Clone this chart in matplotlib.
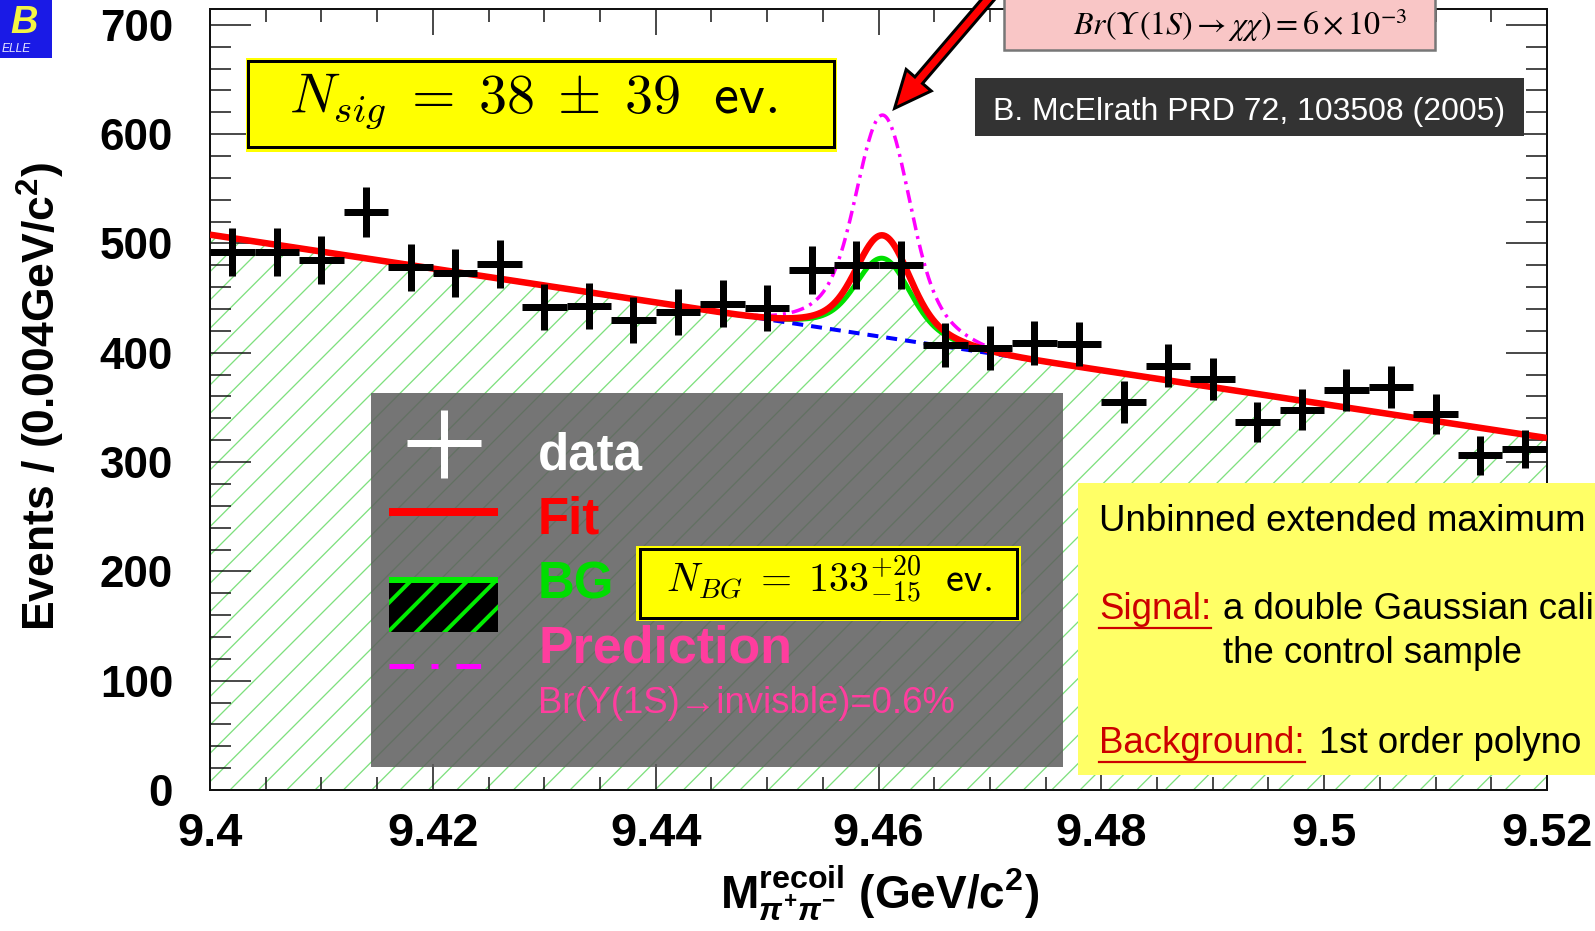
import numpy as np
import matplotlib
matplotlib.use('Agg')
import matplotlib.pyplot as plt
import matplotlib.patches as mpatches
import matplotlib.transforms as mtransforms
from matplotlib.lines import Line2D
from matplotlib.ticker import MultipleLocator

# ---------------- data ----------------
bin_centers = [9.402, 9.406, 9.410, 9.414, 9.418, 9.422, 9.426, 9.430, 9.434, 9.438,
               9.442, 9.446, 9.450, 9.454, 9.458, 9.462, 9.466, 9.470, 9.474, 9.478,
               9.482, 9.486, 9.490, 9.494, 9.498, 9.502, 9.506, 9.510, 9.514, 9.518]
counts = [492, 492, 485, 529, 478, 473, 481, 442, 443, 430,
          437, 445, 441, 476, 480, 480, 407, 404, 409, 408,
          355, 388, 376, 337, 348, 366, 369, 344, 306, 312]
bin_half_width = 0.002

mass_range = [9.40, 9.52]
bg_at_range = [508.0, 322.0]          # 1st order polynomial background at 9.40 / 9.52
peak_mass = 9.4604
peak_height_fit = 93.0                # red (fit)
peak_height_bg_curve = 72.0           # green curve
peak_height_prediction = 203.0        # magenta (prediction)
core_sigma = 0.0022
tail_sigma = 0.0045
tail_fraction = 0.25

x_tick_values = [9.40, 9.42, 9.44, 9.46, 9.48, 9.50, 9.52]
x_tick_labels = ['9.4', '9.42', '9.44', '9.46', '9.48', '9.5', '9.52']
y_tick_values = [0, 100, 200, 300, 400, 500, 600, 700]
y_tick_labels = ['0', '100', '200', '300', '400', '500', '600', '700']

# ---------------- setup ----------------
DPI = 85
W, H = 1595, 931


def pt(px):
    return px * 72.0 / DPI


SANS = ['Liberation Sans', 'DejaVu Sans']
plt.rcParams['font.family'] = SANS
plt.rcParams['lines.scale_dashes'] = False
plt.rcParams['hatch.linewidth'] = pt(1.3)
plt.rcParams['mathtext.fontset'] = 'custom'
plt.rcParams['mathtext.rm'] = 'Liberation Sans:bold'
plt.rcParams['mathtext.it'] = 'Liberation Sans:italic:bold'
plt.rcParams['mathtext.bf'] = 'Liberation Sans:bold'
plt.rcParams['mathtext.sf'] = 'Liberation Sans:bold'

fig = plt.figure(figsize=((W + 0.01) / DPI, (H + 0.01) / DPI), dpi=DPI, facecolor='white')
PXT = mtransforms.Affine2D().scale(1.0 / W, -1.0 / H).translate(0, 1) + fig.transFigure

ax_l, ax_r, ax_t, ax_b = 210, 1547, 9.5, 790
ax = fig.add_axes([ax_l / W, 1 - ax_b / H, (ax_r - ax_l) / W, (ax_b - ax_t) / H])
ax.set_xlim(mass_range)
ax.set_ylim(0, 714)

# curves
xf = np.linspace(mass_range[0], mass_range[1], 1601)
bg = np.interp(xf, mass_range, bg_at_range)
dm = xf - peak_mass
shape = (1 - tail_fraction) * np.exp(-0.5 * (dm / core_sigma) ** 2) + \
    tail_fraction * np.exp(-0.5 * (dm / tail_sigma) ** 2)
fit_curve = bg + peak_height_fit * shape
green_curve = bg + peak_height_bg_curve * shape
pred_curve = bg + peak_height_prediction * shape

ax.fill_between(xf, 0, green_curve, facecolor='none', edgecolor='#7ee07e',
                hatch='/', linewidth=0, zorder=1)
ax.plot(xf, green_curve, color='#00e000', lw=pt(5), zorder=2)
ax.plot(xf, bg, color='#0000ff', lw=pt(4), ls=(0, (pt(11), pt(8))), zorder=2.2)
ax.plot(xf, pred_curve, color='#ff00ff', lw=pt(3.5),
        ls=(0, (pt(13), pt(6), pt(3), pt(6))), zorder=2.4)
ax.plot(xf, fit_curve, color='#ff0000', lw=pt(6.5), zorder=2.6, solid_capstyle='butt')

errs = np.sqrt(np.array(counts, dtype=float))
ax.errorbar(bin_centers, counts, xerr=bin_half_width, yerr=errs, fmt='none',
            ecolor='black', elinewidth=pt(7), capsize=0, zorder=3)

# axes styling
ax.set_xticks(x_tick_values, x_tick_labels)
ax.set_yticks(y_tick_values, y_tick_labels)
ax.xaxis.set_minor_locator(MultipleLocator(0.005))
ax.yaxis.set_minor_locator(MultipleLocator(20))
ax.tick_params(which='both', direction='in', top=True, right=True, width=pt(1.5), color='#111111')
ax.tick_params(axis='y', which='major', length=pt(41), pad=pt(37))
ax.tick_params(axis='y', which='minor', length=pt(21))
ax.tick_params(axis='x', which='major', length=pt(26), pad=pt(22))
ax.tick_params(axis='x', which='minor', length=pt(13))
for lab in ax.get_xticklabels():
    lab.set_fontsize(pt(47))
    lab.set_fontweight('bold')
for lab in ax.get_yticklabels():
    lab.set_fontsize(pt(44))
    lab.set_fontweight('bold')
for sp in ax.spines.values():
    sp.set_linewidth(pt(2))
    sp.set_color('#111111')

ax.set_ylabel('Events / (0.004GeV/c$^{2}$)', fontsize=pt(44.5), fontweight='bold', va='center')
ax.yaxis.set_label_coords((41 - ax_l) / (ax_r - ax_l), (ax_b - 397) / (ax_b - ax_t))
ax.set_xlabel(r'M$_{\pi^{+}\pi^{-}}^{\mathrm{recoil}}$ (GeV/c$^{2}$)', fontsize=pt(46),
              fontweight='bold', va='center')
ax.xaxis.set_label_coords((880 - ax_l) / (ax_r - ax_l), (ax_b - 893) / (ax_b - ax_t))


# ---------------- figure-level decorations ----------------
def rect(x0, y0, x1, y1, **kw):
    p = mpatches.Rectangle((x0, y0), x1 - x0, y1 - y0, transform=PXT, **kw)
    fig.add_artist(p)
    return p


def line(xs, ys, **kw):
    l = Line2D(xs, ys, transform=PXT, **kw)
    fig.add_artist(l)
    return l


def text(x, y, s, **kw):
    return fig.text(x / W, 1 - y / H, s, **kw)


# Belle logo
rect(0, -2, 52, 58, facecolor='#1a1ae6', edgecolor='none', zorder=5)
text(24, 23, 'B', color='#f5f542', fontsize=pt(38), style='italic', fontweight='bold',
     ha='center', va='center', zorder=6)
text(2, 52, 'ELLE', color='#e6e6ff', fontsize=pt(12), style='italic', ha='left',
     va='baseline', zorder=6)

# N_sig box
rect(245.5, 58, 837, 152, facecolor='#ffff00', edgecolor='none', zorder=5)
rect(248, 61, 834, 147, facecolor='#ffff00', edgecolor='black', linewidth=pt(3), zorder=5.1)
text(289, 112.5, r'$N_{sig}\;=\;\mathsf{38}\;\pm\;\mathsf{39}\ \ \mathsf{ev.}$',
     math_fontfamily='cm', fontsize=pt(56), ha='left', va='baseline', zorder=6)

# McElrath box
rect(975, 78, 1524, 136, facecolor='#333333', edgecolor='none', zorder=5)
text(1249.5, 120, 'B. McElrath PRD 72, 103508 (2005)', color='white', fontsize=pt(32),
     ha='center', va='baseline', zorder=6)

# pink box
rect(1004, -6, 1435, 50, facecolor='#f9c6c6', edgecolor='#777777', linewidth=pt(2.5), zorder=5)
text(1073, 35, r'$Br(\Upsilon(1S) \rightarrow \chi\chi) = 6 \times 10^{-3}$', math_fontfamily='stix',
     fontsize=pt(32), ha='left', va='baseline', zorder=6)

# red arrow
arrow = mpatches.FancyArrow(1003, -18, 894.6 - 1003, 108.3 + 18, width=10, head_width=33,
                            head_length=37, length_includes_head=True, transform=PXT,
                            facecolor='#ff0000', edgecolor='black', linewidth=pt(3), zorder=9)
fig.add_artist(arrow)

# legend box
rect(371, 393, 1063, 767, facecolor='#5e5e5e', edgecolor='none', alpha=0.86, zorder=5)
line([407, 481], [443, 443], color='white', lw=pt(7), solid_capstyle='butt', zorder=6)
line([443.5, 443.5], [410, 478], color='white', lw=pt(7), solid_capstyle='butt', zorder=6)
text(538, 469, 'data', color='white', fontsize=pt(51), fontweight='bold', va='baseline', zorder=6)
line([389, 498], [512.5, 512.5], color='#ff0000', lw=pt(8), solid_capstyle='butt', zorder=6)
text(538, 533, 'Fit', color='#ff0000', fontsize=pt(51), fontweight='bold', va='baseline', zorder=6)
bgbox = rect(389, 583, 498, 632, facecolor='black', edgecolor='#00ee00', hatch='/',
             linewidth=0, zorder=6)
if hasattr(bgbox, 'set_hatch_linewidth'):
    bgbox.set_hatch_linewidth(pt(4))
line([389, 498], [580, 580], color='#00ee00', lw=pt(6), solid_capstyle='butt', zorder=6.1)
text(538, 598, 'BG', color='#00dd00', fontsize=pt(51), fontweight='bold', va='baseline', zorder=6)
line([389, 481], [666, 666], color='#ff00ff', lw=pt(5),
     ls=(0, (pt(24.6), pt(17.4), pt(7), pt(18))), solid_capstyle='butt', zorder=6)
text(538, 662, 'Prediction', color='#ff3d9e', fontsize=pt(52), fontweight='bold',
     va='baseline', zorder=6)
text(538, 713, 'Br(Y(1S)\u2192invisble)=0.6%', color='#ff3d9e', fontsize=pt(36.5),
     va='baseline', zorder=6)

# N_BG box
rect(636, 546, 1021, 621, facecolor='#ffff00', edgecolor='none', zorder=6.5)
rect(640, 549, 1017, 618, facecolor='#ffff00', edgecolor='black', linewidth=pt(3), zorder=6.6)
text(666, 593, r'$N_{BG}\;=\;\mathsf{133}^{+\mathsf{20}}_{-\mathsf{15}}\ \ \mathsf{ev.}$',
     math_fontfamily='cm', fontsize=pt(40), ha='left', va='baseline', zorder=7)

# yellow note box
rect(1078, 483, 1600, 775, facecolor='#ffff66', edgecolor='none', zorder=5)
fs_note = pt(36.6)
text(1099, 531, 'Unbinned extended maximum', fontsize=fs_note, va='baseline', zorder=6)
t_sig = text(1099, 619, 'Signal:', fontsize=fs_note, color='#cc0000', va='baseline', zorder=6)
text(1223, 619, 'a double Gaussian cali', fontsize=fs_note, va='baseline', zorder=6)
text(1223, 663, 'the control sample', fontsize=fs_note, va='baseline', zorder=6)
t_bkg = text(1099, 753, 'Background:', fontsize=fs_note, color='#cc0000', va='baseline', zorder=6)
text(1319, 753, '1st order polyno', fontsize=fs_note, va='baseline', zorder=6)

fig.canvas.draw()
renderer = fig.canvas.get_renderer()
for t in (t_sig, t_bkg):
    bb = t.get_window_extent(renderer)
    fig.add_artist(Line2D([bb.x0, bb.x1], [bb.y0 - 1, bb.y0 - 1], color='#cc0000',
                          lw=pt(2.2), transform=mtransforms.IdentityTransform(), zorder=6))

fig.savefig('out.png', dpi=DPI)
